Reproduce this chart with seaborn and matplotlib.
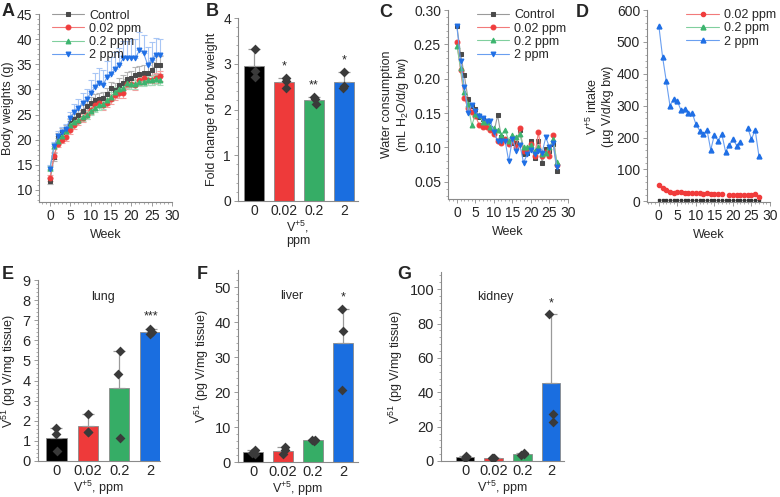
import numpy as np
import pandas as pd
import matplotlib
matplotlib.use("Agg")
import matplotlib.pyplot as plt
import seaborn as sns
from matplotlib.ticker import MultipleLocator

# ---- data ----
weeks = list(range(28))
groups = ["Control", "0.02 ppm", "0.2 ppm", "2 ppm"]
doses = ["0", "0.02", "0.2", "2"]

# A: body weights (g)
bw_control = [11.8, 16.5, 20.6, 21.6, 22.0, 23.3, 24.2, 25.0, 25.8, 26.6, 27.3, 27.8, 28.0, 28.3,
              29.0, 30.2, 29.9, 30.8, 31.3, 32.0, 32.2, 32.8, 33.1, 33.2, 33.2, 33.8, 34.8, 34.8]
bw_002 = [12.4, 16.8, 19.2, 20.0, 20.5, 22.0, 23.0, 23.8, 24.4, 25.0, 26.0, 26.8, 27.3, 26.8,
          27.3, 28.0, 28.8, 29.2, 29.2, 31.0, 31.0, 30.8, 31.8, 32.2, 31.8, 31.8, 32.3, 32.6]
bw_02 = [14.3, 18.8, 19.7, 20.8, 21.8, 23.0, 23.6, 24.0, 24.5, 25.0, 25.8, 26.3, 26.8, 27.0,
         27.8, 28.5, 29.5, 30.0, 30.2, 31.2, 31.0, 31.0, 31.5, 31.5, 31.8, 31.8, 32.0, 31.8]
bw_2 = [14.2, 18.8, 20.7, 21.5, 22.2, 24.3, 25.6, 26.3, 27.3, 28.0, 29.3, 30.4, 31.3, 30.8,
        32.4, 33.1, 34.0, 34.8, 36.2, 36.2, 36.2, 36.2, 37.8, 37.3, 34.9, 35.9, 36.9, 36.8]
sd_control = [0.6, 0.8, 0.8, 0.8, 0.9, 0.9, 1.0, 1.0, 1.0, 1.1, 1.1, 1.2, 1.2, 1.2,
              1.3, 1.3, 1.4, 1.4, 1.5, 1.5, 1.5, 1.6, 1.6, 1.6, 1.7, 1.7, 1.8, 1.8]
sd_002 = [0.6, 0.7, 0.7, 0.7, 0.8, 0.8, 0.8, 0.8, 0.8, 0.9, 0.9, 0.9, 0.9, 0.9,
          0.9, 1.0, 1.0, 1.0, 1.0, 1.0, 1.0, 1.0, 1.0, 1.0, 1.0, 1.0, 1.0, 1.0]
sd_02 = [0.5, 0.6, 0.6, 0.6, 0.7, 0.7, 0.7, 0.7, 0.8, 0.8, 0.8, 0.8, 0.8, 0.8,
         0.9, 0.9, 0.9, 0.9, 0.9, 0.9, 0.9, 0.9, 0.9, 0.9, 0.9, 0.9, 0.9, 0.9]
sd_2 = [0.8, 0.8, 1.0, 1.0, 1.0, 1.2, 1.5, 1.8, 2.0, 2.0, 2.5, 2.8, 3.0, 3.0,
        3.2, 3.3, 3.5, 3.5, 3.5, 3.5, 3.8, 3.8, 3.6, 3.5, 3.5, 3.5, 3.3, 3.3]

# B: fold change of body weight (3 animals per dose)
fold_change = {"0": [3.32, 2.85, 2.70], "0.02": [2.68, 2.62, 2.48],
               "0.2": [2.27, 2.22, 2.13], "2": [2.82, 2.52, 2.48]}

# C: water consumption (mL H2O/d/g bw)
wc_control = [0.277, 0.236, 0.205, 0.171, 0.160, 0.156, 0.145, 0.142, 0.135, 0.128, 0.122, 0.147, 0.115, 0.112,
              0.108, 0.107, 0.107, 0.125, 0.090, 0.092, 0.110, 0.085, 0.110, 0.078, 0.098, 0.095, 0.105, 0.066]
wc_002 = [0.254, 0.212, 0.172, 0.157, 0.152, 0.146, 0.133, 0.130, 0.130, 0.125, 0.120, 0.110, 0.107, 0.112,
          0.105, 0.110, 0.100, 0.128, 0.095, 0.097, 0.105, 0.088, 0.122, 0.087, 0.093, 0.088, 0.118, 0.074]
wc_02 = [0.248, 0.215, 0.180, 0.163, 0.132, 0.148, 0.147, 0.137, 0.137, 0.130, 0.128, 0.125, 0.118, 0.126,
         0.110, 0.118, 0.115, 0.120, 0.100, 0.100, 0.103, 0.095, 0.100, 0.090, 0.092, 0.100, 0.112, 0.079]
wc_2 = [0.276, 0.226, 0.188, 0.150, 0.162, 0.153, 0.146, 0.143, 0.138, 0.138, 0.122, 0.110, 0.110, 0.110,
        0.080, 0.113, 0.095, 0.104, 0.078, 0.090, 0.097, 0.090, 0.095, 0.092, 0.115, 0.100, 0.106, 0.071]

# D: V+5 intake (ug V/d/kg bw)
vi_low = [4, 4, 4, 3, 3, 3, 3, 3, 3, 3, 3, 3, 3, 3, 3, 3, 3, 3, 3, 3, 3, 3, 3, 3, 3, 3, 3, 3]
vi_002 = [50, 42, 35, 30, 27, 28, 28, 27, 27, 26, 25, 25, 24, 25,
          23, 23, 23, 23, np.nan, 21, 21, 20, 20, 19, 19, 20, 22, 15]
vi_2 = [550, 453, 377, 300, 322, 314, 285, 290, 276, 277, 242, 222, 210, 224,
        161, 209, 190, 211, 156, 176, 195, 175, 187, np.nan, 230, 195, 224, 143]

# E-G: V51 in tissue (pg V/mg tissue)
lung = {"0": [1.65, 1.32, 0.52], "0.02": [2.32, 1.42, 1.42],
        "0.2": [5.48, 4.33, 1.12], "2": [6.55, 6.43, 6.30]}
liver = {"0": [3.5, 2.6, 2.2], "0.02": [4.2, 3.3, 2.3],
         "0.2": [6.4, 6.2, 6.0], "2": [43.9, 37.6, 20.7]}
kidney = {"0": [2.8, 2.2, 2.0], "0.02": [1.9, 1.6, 1.5],
          "0.2": [4.5, 3.8, 3.6], "2": [85.7, 27.3, 22.6]}

# ---- style ----
sns.set_style("ticks")
plt.rcParams["font.family"] = ["Liberation Sans", "DejaVu Sans"]
plt.rcParams["mathtext.fontset"] = "custom"
plt.rcParams["mathtext.rm"] = "Liberation Sans"
plt.rcParams["mathtext.default"] = "regular"

mark_col = {"Control": "#4a4a4a", "0.02 ppm": "#f03c3c", "0.2 ppm": "#3cb46e", "2 ppm": "#1f6fe5"}
line_col = {"Control": "#9a9a9a", "0.02 ppm": "#f27a7a", "0.2 ppm": "#80cf9e", "2 ppm": "#6a9ff0"}
err_col = {"Control": "#b5b5b5", "0.02 ppm": "#f5a0a0", "0.2 ppm": "#a8dcbb", "2 ppm": "#a8c6f5"}
markers = {"Control": "s", "0.02 ppm": "o", "0.2 ppm": "^", "2 ppm": "v"}
bar_colors = ["#000000", "#ee3a3a", "#36ad66", "#1a6ee0"]

fig = plt.figure(figsize=(7.8, 4.97), dpi=100)


def px_axes(l, t, r, b):
    return fig.add_axes([l / 780, 1 - b / 497, (r - l) / 780, (b - t) / 497])


def style_ax(ax, fs=10):
    sns.despine(ax=ax)
    for s in ["left", "bottom"]:
        ax.spines[s].set_color("#8a8a8a")
        ax.spines[s].set_linewidth(0.8)
    ax.tick_params(which="major", length=3, width=0.6, color="#8a8a8a", labelsize=fs, pad=2)
    ax.tick_params(which="minor", length=1.5, width=0.5, color="#8a8a8a")


def line_panel(ax, series, mk, leg_anchor, ms=3.5):
    for name, vals in series:
        sns.lineplot(x=weeks, y=vals, ax=ax, color=line_col[name], linewidth=0.8,
                     marker=mk.get(name, "o"), markersize=ms, markerfacecolor=mark_col[name],
                     markeredgecolor=mark_col[name], label=name)
    ax.legend(frameon=False, loc="upper left", bbox_to_anchor=leg_anchor, fontsize=9,
              handlelength=2.6, labelspacing=0.1, borderaxespad=0, handletextpad=0.4)


def bar_panel(ax, data, ylim, xlim, fs=10):
    df = pd.DataFrame([(d, v) for d in doses for v in data[d]], columns=["dose", "value"])
    sns.barplot(data=df, x="dose", y="value", order=doses, hue="dose", palette=bar_colors,
                saturation=1, errorbar=None, width=0.65, edgecolor="#8a8a8a", linewidth=0.6,
                legend=False, ax=ax)
    means = df.groupby("dose", sort=False)["value"].mean().reindex(doses)
    tops = df.groupby("dose", sort=False)["value"].max().reindex(doses)
    ax.errorbar(range(4), means.values, yerr=[np.zeros(4), (tops - means).values], fmt="none",
                ecolor="#9a9a9a", elinewidth=0.9, capsize=4, capthick=0.9, zorder=3)
    sns.stripplot(data=df, x="dose", y="value", order=doses, marker="D", color="#3a3a3a",
                  size=5, jitter=0.08, ax=ax, zorder=4)
    ax.set_ylim(*ylim)
    ax.set_xlim(*xlim)
    ax.set_ylabel("")
    ax.set_xlabel("")
    style_ax(ax, fs)
    ax.tick_params(axis="x", length=0)
    return tops


# ---- A ----
axA = px_axes(39, 14, 172, 202)
a_series = [("Control", bw_control, sd_control), ("0.02 ppm", bw_002, sd_002),
            ("0.2 ppm", bw_02, sd_02), ("2 ppm", bw_2, sd_2)]
for name, vals, sd in a_series:
    lower = np.zeros(len(sd)) if name == "2 ppm" else np.array(sd)
    axA.errorbar(weeks, vals, yerr=[lower, sd], fmt="none", ecolor=err_col[name],
                 elinewidth=0.8, capsize=2, capthick=0.8, zorder=1)
line_panel(axA, [(n, v) for n, v, _ in a_series], markers, (0.06, 1.05))
axA.set_xlim(-2.7, 30)
axA.set_ylim(7.6, 45)
axA.set_xticks(range(0, 31, 5))
axA.set_yticks(range(10, 46, 5))
axA.yaxis.set_minor_locator(MultipleLocator(1))
axA.xaxis.set_minor_locator(MultipleLocator(1))
axA.set_xlabel("Week", fontsize=9)
axA.set_ylabel("Body weights (g)", fontsize=9, labelpad=2)
style_ax(axA)

# ---- B ----
axB = px_axes(238, 18, 358, 201)
topsB = bar_panel(axB, fold_change, (0, 4), (-0.53, 3.47), fs=10)
axB.set_yticks(range(0, 5))
axB.yaxis.set_minor_locator(MultipleLocator(0.2))
axB.set_ylabel("Fold change of body weight", fontsize=9, labelpad=4)
axB.set_xlabel("V$^{+5}$,\nppm", fontsize=9, labelpad=1, linespacing=1.0)
for i, star in [(1, "*"), (2, "**"), (3, "*")]:
    axB.text(i, topsB.iloc[i] + 0.12, star, ha="center", va="bottom", fontsize=9)

# ---- C ----
axC = px_axes(448, 10, 568, 199)
line_panel(axC, [("Control", wc_control), ("0.02 ppm", wc_002), ("0.2 ppm", wc_02), ("2 ppm", wc_2)],
           markers, (0.2, 1.03))
axC.set_xlim(-2.4, 30)
axC.set_ylim(0.025, 0.30)
axC.set_xticks(range(0, 31, 5))
axC.set_yticks([0.05, 0.10, 0.15, 0.20, 0.25, 0.30])
axC.yaxis.set_major_formatter(matplotlib.ticker.FormatStrFormatter("%.2f"))
axC.yaxis.set_minor_locator(MultipleLocator(0.01))
axC.xaxis.set_minor_locator(MultipleLocator(1))
axC.set_xlabel("Week", fontsize=9)
axC.set_ylabel("Water consumption\n(mL H$_2$O/d/g bw)", fontsize=9, labelpad=2)
style_ax(axC)

# ---- D ----
axD = px_axes(647, 10, 770, 202)
axD.plot(weeks, vi_low, color="#8a8a8a", linewidth=0.6, marker="s", markersize=2,
         markerfacecolor="#333333", markeredgecolor="#333333")
axD.plot(weeks, vi_002, color=line_col["0.02 ppm"], linewidth=0.8, marker="o", markersize=3,
         markerfacecolor=mark_col["0.02 ppm"], markeredgecolor=mark_col["0.02 ppm"], label="0.02 ppm")
axD.plot([], [], color=line_col["0.2 ppm"], linewidth=0.8, marker="^", markersize=3.5,
         markerfacecolor=mark_col["0.2 ppm"], markeredgecolor=mark_col["0.2 ppm"], label="0.2 ppm")
axD.plot(weeks, vi_2, color=line_col["2 ppm"], linewidth=0.8, marker="^", markersize=3.5,
         markerfacecolor=mark_col["2 ppm"], markeredgecolor=mark_col["2 ppm"], label="2 ppm")
axD.legend(frameon=False, loc="upper left", bbox_to_anchor=(0.28, 1.03), fontsize=9,
           handlelength=2.6, labelspacing=0.1, borderaxespad=0, handletextpad=0.4)
axD.set_xlim(-3.2, 30)
axD.set_ylim(-2, 600)
axD.set_xticks(range(0, 31, 5))
axD.set_yticks(range(0, 601, 100))
axD.yaxis.set_minor_locator(MultipleLocator(20))
axD.xaxis.set_minor_locator(MultipleLocator(1))
axD.set_xlabel("Week", fontsize=9)
axD.set_ylabel("V$^{+5}$ intake\n(µg V/d/kg bw)", fontsize=9, labelpad=2)
style_ax(axD)

# ---- E, F, G ----
tissue_panels = [
    ((37.5, 280, 160, 461), lung, (0, 9), (-0.6, 3.3), range(0, 10), 0.2, "lung", (1.5, 8.15), "***", 0.35),
    ((238, 270, 358, 462), liver, (0, 55), (-0.5, 3.5), range(0, 51, 10), 2, "liver", (1.3, 47.5), "*", 1.5),
    ((441, 272, 564, 461), kidney, (0, 110), (-0.84, 3.45), range(0, 101, 20), 4, "kidney", (1.05, 95.5), "*", 2.5),
]
for box, data, ylim, xlim, yt, minor, title, tpos, star, off in tissue_panels:
    ax = px_axes(*box)
    tops = bar_panel(ax, data, ylim, xlim, fs=10.5)
    ax.set_yticks(list(yt))
    ax.yaxis.set_minor_locator(MultipleLocator(minor))
    ax.set_ylabel("V$^{51}$ (pg V/mg tissue)", fontsize=9, labelpad=3)
    ax.set_xlabel("V$^{+5}$, ppm", fontsize=9, labelpad=1)
    ax.text(tpos[0], tpos[1], title, ha="center", va="center", fontsize=9)
    ax.text(3, tops.iloc[3] + off, star, ha="center", va="bottom", fontsize=9)

# panel letters
for letter, x, y in [("A", 2, 3), ("B", 206, 3), ("C", 379, 4), ("D", 576, 4),
                     ("E", 2, 266), ("F", 197, 266), ("G", 397, 266)]:
    fig.text(x / 780, 1 - y / 497, letter, fontsize=13, fontweight="bold", va="top", ha="left")

fig.savefig("out.png", dpi=100)
